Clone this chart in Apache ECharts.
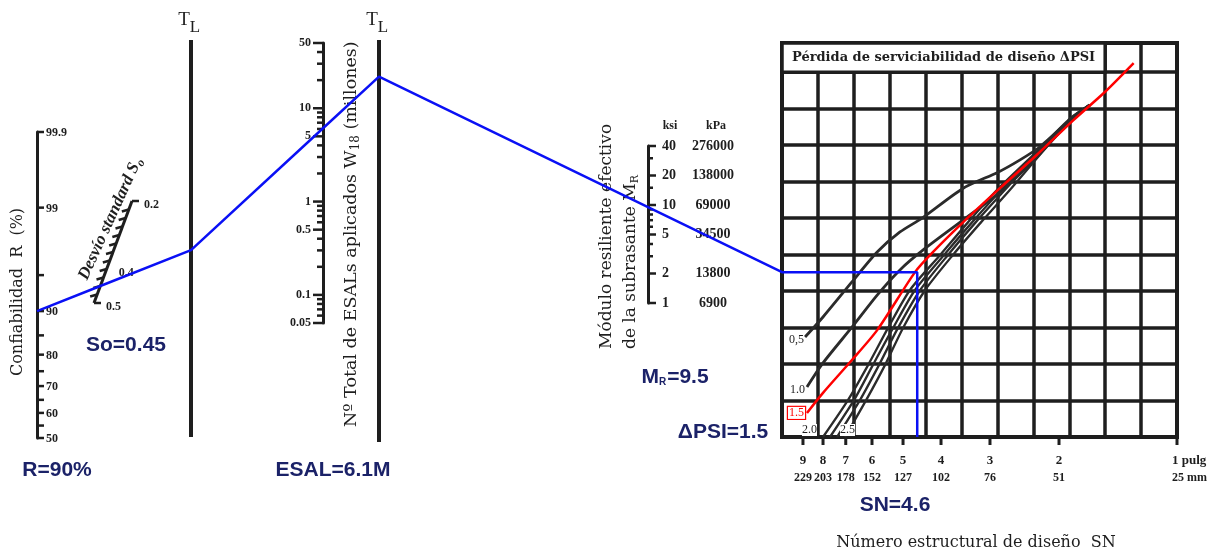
<!DOCTYPE html>
<html>
<head>
<meta charset="utf-8">
<script src="https://cdn.jsdelivr.net/npm/echarts@6/dist/echarts.min.js"></script>
<style>
html, body { margin: 0; background: #fff; }
#chart { width: 1224px; height: 554px; }
</style>
</head>
<body>
<div id="chart"></div>
<script>
// design inputs
var reliability = 90;      // R (%)
var stdDev = 0.45;         // So
var esal = 6.1;            // W18, millions
var resilient = 9.5;       // MR, ksi
var deltaPsi = 1.5;
var structNumber = 4.6;

// scale ticks / labels
var rTicks = [50, 55, 60, 65, 70, 75, 80, 85, 90, 95, 99, 99.9];
var rLabels = [50, 60, 70, 80, 90, 99, 99.9];
var soTicks = [0.2, 0.225, 0.25, 0.275, 0.3, 0.325, 0.35, 0.375, 0.4, 0.425, 0.45, 0.475, 0.5];
var soLabels = [0.2, 0.4, 0.5];
var esalTicks = [0.05, 0.06, 0.07, 0.08, 0.09, 0.1, 0.2, 0.3, 0.4, 0.5, 0.6, 0.7, 0.8, 0.9,
                 1, 2, 3, 4, 5, 6, 7, 8, 9, 10, 20, 30, 40, 50];
var esalLabels = [0.05, 0.1, 0.5, 1, 5, 10, 50];
var mrTicks = [1, 2, 3, 4, 5, 6, 7, 8, 9, 10, 15, 20, 30, 40];
var mrKsi = [1, 2, 5, 10, 20, 40];
var mrKpa = ['6900', '13800', '34500', '69000', '138000', '276000'];
var snTicks = [9, 8, 7, 6, 5, 4, 3, 2, 1];
var snInch = ['9', '8', '7', '6', '5', '4', '3', '2', '1 pulg'];
var snMm = ['229', '203', '178', '152', '127', '102', '76', '51', '25 mm'];

// ΔPSI curves as [SN, grid row]
var psi05 = [[8.89, 2.74], [8.00, 3.29], [6.75, 4.25], [5.82, 5.07], [5.09, 5.62], [4.47, 6.00], [3.51, 6.82], [2.86, 7.26], [2.52, 7.59], [2.24, 7.95], [1.85, 8.74], [1.67, 9.10]];
var psi10 = [[8.79, 1.37], [8.00, 2.03], [6.75, 3.01], [5.82, 3.89], [5.09, 4.58], [4.45, 5.12], [3.51, 5.95], [2.83, 6.71], [2.28, 7.67], [1.85, 8.74], [1.67, 9.10]];
var psi20 = [[8.00, 0], [6.91, 1.01], [6.14, 1.97], [5.46, 2.99], [4.80, 4.03], [4.02, 4.99], [3.41, 5.89], [2.88, 6.77], [2.30, 7.78], [1.87, 8.74], [1.67, 9.10]];
var psi20b = [[7.68, 0], [6.67, 1.01], [5.97, 1.97], [5.30, 2.99], [4.66, 4.03], [3.93, 4.99], [3.33, 5.89], [2.81, 6.77], [2.28, 7.78], [1.86, 8.74], [1.67, 9.10]];
var psi25 = [[7.37, 0], [6.44, 1.01], [5.76, 1.97], [5.15, 2.99], [4.52, 4.03], [3.84, 4.99], [3.26, 5.89], [2.75, 6.77], [2.25, 7.78], [1.85, 8.74], [1.67, 9.10]];
var psi25b = [[7.03, 0], [6.21, 1.01], [5.56, 1.97], [5.00, 2.99], [4.39, 4.03], [3.73, 4.99], [3.16, 5.89], [2.67, 6.77], [2.22, 7.78], [1.84, 8.74], [1.67, 9.10]];
var psi15 = [[8.79, 0.66], [8.00, 1.21], [6.75, 2.11], [5.82, 2.93], [4.66, 4.52], [4.22, 5.04], [3.51, 5.89], [2.83, 6.82], [2.28, 7.73], [1.84, 8.68], [1.53, 9.45], [1.29, 10.25]];

var W = 1224, H = 554;
var ink = '#1e1e1e';
var navy = '#1b2268';
var blue = '#0a10f5';
var serif = '"DejaVu Serif", serif';
var tserif = '"Liberation Serif", serif';
var sans = '"Liberation Sans", sans-serif';

// layout of the pivot lines and the slanted So scale
var tl1X = 191, tl2X = 379;
var soTop = [132, 201], soBottom = [94, 303];
function soPoint(v) {
  var f = (v - soTicks[0]) / (soTicks[soTicks.length - 1] - soTicks[0]);
  return [soTop[0] + (soBottom[0] - soTop[0]) * f, soTop[1] + (soBottom[1] - soTop[1]) * f];
}

// inverse normal CDF (reliability scale is linear in z)
function probit(p) {
  var a = [-39.69683028665376, 220.9460984245205, -275.9285104469687, 138.3577518672690, -30.66479806614716, 2.506628277459239];
  var b = [-54.47609879822406, 161.5858368580409, -155.6989798598866, 66.80131188771972, -13.28068155288572];
  var c = [-0.007784894002430293, -0.3223964580411365, -2.400758277161838, -2.549732539343734, 4.374645481464989, 2.938163982698783];
  var d = [0.007784695709041462, 0.3224671290700398, 2.445134137142996, 3.754408661907416];
  var q, r;
  if (p < 0.02425) {
    q = Math.sqrt(-2 * Math.log(p));
    return (((((c[0] * q + c[1]) * q + c[2]) * q + c[3]) * q + c[4]) * q + c[5]) / ((((d[0] * q + d[1]) * q + d[2]) * q + d[3]) * q + 1);
  }
  if (p <= 1 - 0.02425) {
    q = p - 0.5; r = q * q;
    return (((((a[0] * r + a[1]) * r + a[2]) * r + a[3]) * r + a[4]) * r + a[5]) * q / (((((b[0] * r + b[1]) * r + b[2]) * r + b[3]) * r + b[4]) * r + 1);
  }
  q = Math.sqrt(-2 * Math.log(1 - p));
  return -(((((c[0] * q + c[1]) * q + c[2]) * q + c[3]) * q + c[4]) * q + c[5]) / ((((d[0] * q + d[1]) * q + d[2]) * q + d[3]) * q + 1);
}

function txt(text, x, y, font, opts) {
  opts = opts || {};
  return {
    type: 'text', x: x, y: y, rotation: opts.rotation || 0, z: 5,
    style: {
      text: text, font: font, fill: opts.fill || ink,
      align: opts.align || 'center', textAlign: opts.align || 'center',
      verticalAlign: 'middle', textVerticalAlign: 'middle',
      rich: opts.rich
    }
  };
}

// ticks along a vertical scale axis: data [0, value, length]
function tickSeries(xi, yi, data, dir) {
  return {
    type: 'custom', xAxisIndex: xi, yAxisIndex: yi, silent: true, z: 3,
    data: data,
    renderItem: function (params, api) {
      var p = api.coord([api.value(0), api.value(1)]);
      return {
        type: 'line',
        shape: { x1: p[0], y1: p[1], x2: p[0] + dir * api.value(2), y2: p[1] },
        style: { stroke: ink, lineWidth: 2.5 }
      };
    }
  };
}

function labelSeries(xi, yi, data, texts, dx, dy, align, font, color) {
  return {
    type: 'custom', xAxisIndex: xi, yAxisIndex: yi, silent: true, z: 4,
    data: data,
    renderItem: function (params, api) {
      var p = api.coord([api.value(0), api.value(1)]);
      var al = typeof align === 'function' ? align(params.dataIndex) : align;
      var shift = al === 'left' && align !== 'left' ? -5 : dx;
      return {
        type: 'text', x: p[0] + shift, y: p[1] + dy,
        style: {
          text: texts[params.dataIndex], font: font, fill: color || ink,
          align: al, textAlign: al, verticalAlign: 'middle', textVerticalAlign: 'middle'
        }
      };
    }
  };
}

function curve(data, color, width) {
  return {
    type: 'line', xAxisIndex: 4, yAxisIndex: 4, data: data, smooth: 0.25,
    showSymbol: false, silent: true, z: 5,
    lineStyle: { color: color, width: width }
  };
}

var hiddenAxis = { show: false };
var zTop = probit(rTicks[rTicks.length - 1] / 100);
var spine = { show: true, onZero: false, lineStyle: { color: ink, width: 3 } };
var gridLines = { show: true, lineStyle: { color: ink, width: 3.5 } };
var snAlign = function (i) { return i === snTicks.length - 1 ? 'left' : 'center'; };

var curveLabelTexts = ['0,5', '1.0', '2.0', '2.5'];
var curveLabelAt = [psi05[0], psi10[0], psi20[0], psi25[0]];

var option = {
  animation: false,
  backgroundColor: '#fff',
  grid: [
    { left: 0, top: 0, width: W, height: H },
    { left: 37, top: 132, width: 10, height: 306 },
    { left: 323, top: 43, width: 10, height: 280 },
    { left: 648, top: 146, width: 10, height: 157 },
    { left: 782, top: 43, width: 395, height: 394, show: true, borderColor: ink, borderWidth: 4 }
  ].map(function (g) { return Object.assign({ containLabel: false, outerBoundsMode: 'none' }, g); }),
  xAxis: [
    { gridIndex: 0, type: 'value', min: 0, max: W, show: false },
    { gridIndex: 1, type: 'value', min: 0, max: 1, show: false },
    { gridIndex: 2, type: 'value', min: 0, max: 1, show: false },
    { gridIndex: 3, type: 'value', min: 0, max: 1, show: false },
    { gridIndex: 4, type: 'log', min: 1, max: 10.18, inverse: true, show: false },
    { gridIndex: 4, type: 'value', min: 0, max: 11, interval: 1,
      axisLine: hiddenAxis, axisTick: hiddenAxis, axisLabel: hiddenAxis, splitLine: gridLines }
  ],
  yAxis: [
    { gridIndex: 0, type: 'value', min: 0, max: H, inverse: true, show: false },
    { gridIndex: 1, type: 'value', min: 0, max: zTop, axisLine: spine,
      axisTick: hiddenAxis, axisLabel: hiddenAxis, splitLine: hiddenAxis },
    { gridIndex: 2, type: 'log', logBase: 10, min: 0.05, max: 50, axisLine: spine,
      axisTick: hiddenAxis, axisLabel: hiddenAxis, splitLine: hiddenAxis },
    { gridIndex: 3, type: 'log', logBase: 10, min: 1, max: 40, axisLine: spine,
      axisTick: hiddenAxis, axisLabel: hiddenAxis, splitLine: hiddenAxis },
    { gridIndex: 4, type: 'value', min: 0, max: 10.8, interval: 1,
      axisLine: hiddenAxis, axisTick: hiddenAxis, axisLabel: hiddenAxis, splitLine: gridLines }
  ],
  series: [
    // reliability scale
    tickSeries(1, 1, rTicks.map(function (v) { return [0, probit(v / 100), 7]; }), 1),
    labelSeries(1, 1, rLabels.map(function (v) { return [0, probit(v / 100)]; }),
      rLabels.map(String), 9, 1, 'left', 'bold 12px ' + tserif),
    // ESAL scale
    tickSeries(2, 2, esalTicks.map(function (v) { return [0, v, esalLabels.indexOf(v) >= 0 ? 10 : 6]; }), -1),
    labelSeries(2, 2, esalLabels.map(function (v) { return [0, v]; }),
      esalLabels.map(String), -12, 0, 'right', 'bold 12px ' + tserif),
    // MR scale
    tickSeries(3, 3, mrTicks.map(function (v) { return [0, v, mrKsi.indexOf(v) >= 0 ? 8 : 5]; }), 1),
    labelSeries(3, 3, mrKsi.map(function (v) { return [0, v]; }),
      mrKsi.map(String), 14, 0, 'left', 'bold 14px ' + tserif),
    labelSeries(3, 3, mrKsi.map(function (v) { return [0, v]; }),
      mrKpa, 65, 0, 'center', 'bold 14px ' + tserif),
    // SN axis ticks and labels
    {
      type: 'custom', xAxisIndex: 4, yAxisIndex: 4, silent: true, z: 3,
      data: snTicks.map(function (v) { return [v, 0]; }),
      renderItem: function (params, api) {
        var p = api.coord([api.value(0), api.value(1)]);
        return { type: 'line', shape: { x1: p[0], y1: p[1], x2: p[0], y2: p[1] + 8 },
                 style: { stroke: ink, lineWidth: 3 } };
      }
    },
    labelSeries(4, 4, snTicks.map(function (v) { return [v, 0]; }),
      snInch, 0, 24, snAlign, 'bold 13px ' + tserif),
    labelSeries(4, 4, snTicks.map(function (v) { return [v, 0]; }),
      snMm, 0, 41, snAlign, 'bold 12px ' + tserif),
    // title box of the chart
    {
      type: 'custom', xAxisIndex: 5, yAxisIndex: 4, silent: true, z: 4,
      data: [[0, 10, 9, 10.8]],
      renderItem: function (params, api) {
        var a = api.coord([api.value(0), api.value(3)]);
        var b = api.coord([api.value(2), api.value(1)]);
        return {
          type: 'group', children: [
            { type: 'rect', shape: { x: a[0], y: a[1], width: b[0] - a[0], height: b[1] - a[1] },
              style: { fill: '#fff', stroke: ink, lineWidth: 3.5 } },
            { type: 'text', x: (a[0] + b[0]) / 2, y: (a[1] + b[1]) / 2,
              style: { text: 'Pérdida de serviciabilidad de diseño ΔPSI', font: 'bold 13px ' + serif,
                       fill: ink, align: 'center', textAlign: 'center', verticalAlign: 'middle', textVerticalAlign: 'middle' } }
          ]
        };
      }
    },
    curve(psi05, '#2b2b2b', 2.8),
    curve(psi10, '#2b2b2b', 2.8),
    curve(psi20, '#2b2b2b', 2.3),
    curve(psi20b, '#2b2b2b', 2.3),
    curve(psi25, '#2b2b2b', 2.3),
    curve(psi25b, '#2b2b2b', 2.3),
    Object.assign(curve(psi15, '#ff0000', 2.5), { z: 6 }),
    {
      type: 'custom', xAxisIndex: 4, yAxisIndex: 4, silent: true, z: 7,
      data: curveLabelAt,
      renderItem: function (params, api) {
        var p = api.coord([api.value(0), api.value(1)]);
        var off = [[-1, 3, 'right'], [-2, 3, 'right'], [-6, -7, 'right'], [3, -7, 'left']][params.dataIndex];
        return { type: 'text', x: p[0] + off[0], y: p[1] + off[1],
          style: { text: curveLabelTexts[params.dataIndex], font: '12px ' + tserif, fill: ink,
                   align: off[2], textAlign: off[2], verticalAlign: 'middle', textVerticalAlign: 'middle',
                   backgroundColor: '#fff' } };
      }
    },
    {
      type: 'custom', xAxisIndex: 4, yAxisIndex: 4, silent: true, z: 7,
      data: [psi15[0]],
      renderItem: function (params, api) {
        var p = api.coord([api.value(0), api.value(1)]);
        return { type: 'text', x: p[0] - 2, y: p[1],
          style: { text: String(deltaPsi), font: '12px ' + tserif, fill: '#ff0000',
                   align: 'right', textAlign: 'right', verticalAlign: 'middle', textVerticalAlign: 'middle',
                   backgroundColor: '#fff', borderColor: '#ff0000', borderWidth: 1.2, padding: [0, 1, 0, 1] } };
      }
    },
    // slanted So scale
    {
      type: 'line', xAxisIndex: 0, yAxisIndex: 0, silent: true, showSymbol: false, z: 3,
      data: [soPoint(soTicks[0]), soPoint(soTicks[soTicks.length - 1])],
      lineStyle: { color: ink, width: 3 }
    },
    {
      type: 'custom', xAxisIndex: 0, yAxisIndex: 0, silent: true, z: 3,
      data: soTicks.map(function (v, i) {
        var p = soPoint(v);
        return [p[0], p[1], (i === 0 || i === soTicks.length - 1) ? 1 : -1];
      }),
      renderItem: function (params, api) {
        var p = api.coord([api.value(0), api.value(1)]);
        var dir = api.value(2);
        return { type: 'line', shape: { x1: p[0], y1: p[1], x2: p[0] + dir * 7, y2: p[1] + (dir > 0 ? 0 : 2) },
                 style: { stroke: ink, lineWidth: 2.5 } };
      }
    },
    labelSeries(0, 0, soLabels.map(function (v) { return soPoint(v); }),
      soLabels.map(String), 12, 4, 'left', 'bold 12px ' + tserif),
    // design path
    {
      id: 'design', type: 'line', xAxisIndex: 0, yAxisIndex: 0, silent: true, showSymbol: false, z: 20,
      data: [], lineStyle: { color: blue, width: 2.5 }
    }
  ],
  graphic: [
    { type: 'line', z: 2, shape: { x1: tl1X, y1: 40, x2: tl1X, y2: 437 }, style: { stroke: ink, lineWidth: 4 } },
    { type: 'line', z: 2, shape: { x1: tl2X, y1: 40, x2: tl2X, y2: 442 }, style: { stroke: ink, lineWidth: 4 } },
    txt('T', tl1X - 7, 20, '19px ' + tserif),
    txt('L', tl1X + 4, 28, '17px ' + tserif),
    txt('T', tl2X - 7, 20, '19px ' + tserif),
    txt('L', tl2X + 4, 28, '17px ' + tserif),
    txt('Confiabilidad  R  (%)', 18, 376, '16px ' + serif, { rotation: Math.PI / 2, align: 'left' }),
    txt('{a|Desvío standard S}{s|o}', 83, 279, 'bold italic 17px ' + tserif, {
      rotation: 1.143, align: 'left',
      rich: { a: { font: 'bold italic 17px ' + tserif, fill: ink }, s: { font: 'bold italic 12px ' + tserif, fill: ink, padding: [9, 0, 0, 0] } }
    }),
    txt('{a|Nº Total de ESALs aplicados W}{s|18}{a| (millones)}', 351, 427, '17.5px ' + serif, {
      rotation: Math.PI / 2, align: 'left',
      rich: { a: { font: '17.5px ' + serif, fill: ink }, s: { font: '12px ' + serif, fill: ink, padding: [10, 0, 0, 0] } }
    }),
    txt('Módulo resiliente efectivo', 607, 349, '17px ' + serif, { rotation: Math.PI / 2, align: 'left' }),
    txt('{a|de la subrasante M}{s|R}', 631, 349, '17px ' + serif, {
      rotation: Math.PI / 2, align: 'left',
      rich: { a: { font: '17px ' + serif, fill: ink }, s: { font: '11px ' + serif, fill: ink, padding: [9, 0, 0, 0] } }
    }),
    txt('ksi', 670, 126, 'bold 12px ' + tserif),
    txt('kPa', 716, 126, 'bold 12px ' + tserif),
    txt('Número estructural de diseño  SN', 976, 543, '16px ' + serif),
    txt('So=' + stdDev, 126, 345, 'bold 21px ' + sans, { fill: navy }),
    txt('R=' + reliability + '%', 57, 470, 'bold 21px ' + sans, { fill: navy }),
    txt('ESAL=' + esal + 'M', 333, 470, 'bold 21px ' + sans, { fill: navy }),
    txt('{a|M}{s|R}{a|=' + resilient + '}', 675, 377, 'bold 21px ' + sans, {
      fill: navy,
      rich: { a: { font: 'bold 21px ' + sans, fill: navy },
              s: { font: 'bold 10px ' + sans, fill: navy, padding: [10, 1, 0, 0] } }
    }),
    txt('ΔPSI=' + deltaPsi, 723, 432, 'bold 21px ' + sans, { fill: navy }),
    txt('SN=' + structNumber, 895, 505, 'bold 21px ' + sans, { fill: navy })
  ]
};

var chart = echarts.init(document.getElementById('chart'), null, { renderer: 'canvas' });
chart.setOption(option);

// run the nomograph through the axes: each turning point comes from the scales
function extend(p1, p2, x) {
  return [x, p1[1] + (p2[1] - p1[1]) * (x - p1[0]) / (p2[0] - p1[0])];
}
var pR = chart.convertToPixel({ gridIndex: 1 }, [0, probit(reliability / 100)]);
var pSo = soPoint(stdDev);
var pT1 = extend(pR, pSo, tl1X);
var pE = chart.convertToPixel({ gridIndex: 2 }, [0, esal]);
var pT2 = extend(pT1, pE, tl2X);
var pM = chart.convertToPixel({ gridIndex: 3 }, [0, resilient]);
var snLeft = chart.convertToPixel({ xAxisIndex: 5, yAxisIndex: 4 }, [0, 0])[0];
var pPivot = extend(pT2, pM, snLeft);
var pSN = chart.convertToPixel({ xAxisIndex: 4, yAxisIndex: 4 }, [structNumber, 0]);

chart.setOption({
  series: [{ id: 'design', data: [pR, pSo, pT1, pE, pT2, pM, pPivot, [pSN[0], pPivot[1]], pSN] }]
});
</script>
</body>
</html>
